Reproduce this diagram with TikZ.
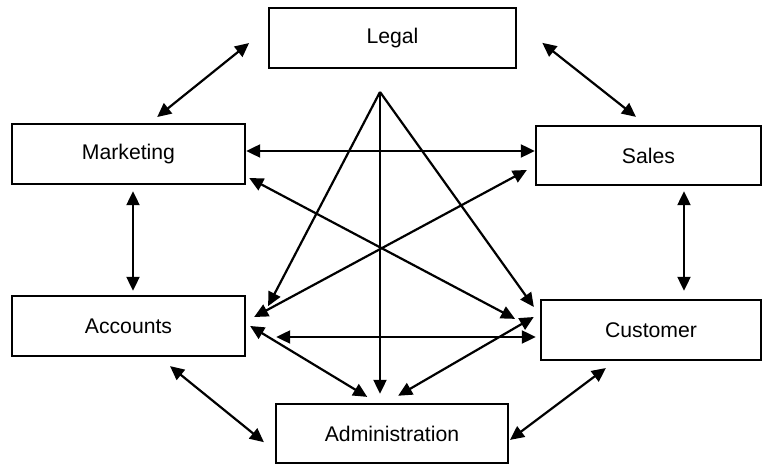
\documentclass[tikz,border=0pt]{standalone}
\usepackage{fontspec}
\setmainfont{Liberation Sans}
\usepackage{tikz}
\usetikzlibrary{arrows.meta, positioning, calc}

\begin{document}
\begin{tikzpicture}[x=0.5pt, y=-0.5pt,
  dept/.style={draw, line width=1.2pt, inner sep=0pt, font=\fontsize{10.6}{12.7}\selectfont},
  link/.style={{Triangle[length=7pt,width=6.5pt]}-{Triangle[length=7pt,width=6.5pt]}, line width=1.1pt},
  tolink/.style={-{Triangle[length=7pt,width=6.5pt]}, line width=1.1pt}]
  \useasboundingbox (0,0) rectangle (762,464);

  \node[dept, minimum width=123.5pt, minimum height=30pt] (legal) at (392.5,38) {Legal};
  \node[dept, minimum width=116.5pt, minimum height=30pt] (mkt) at (128.5,154) {Marketing};
  \node[dept, minimum width=112.5pt, minimum height=29.5pt] (sales) at (648.5,155.5) {Sales};
  \node[dept, minimum width=116.5pt, minimum height=30pt] (acc) at (128.5,326) {Accounts};
  \node[dept, minimum width=110pt, minimum height=30pt] (cust) at (651,330) {Customer};
  \node[dept, minimum width=116pt, minimum height=29.5pt] (admin) at (392,433.5) {Administration};
  \coordinate (apex) at (380,92);

  \draw[link, shorten <=4.6pt, shorten >=12pt] ([shift={(21.5,0)}]mkt.north) -- ([shift={(0,-10)}]legal.west);
  \draw[link, shorten <=16pt, shorten >=6.4pt] ([shift={(0,-15)}]legal.east) -- ([shift={(-2.5,0)}]sales.north);
  \draw[link, shorten <=3pt, shorten >=2pt] ([shift={(4.5,0)}]mkt.south) -- ([shift={(4.5,0)}]acc.north);
  \draw[link, shorten <=2.5pt, shorten >=4pt] ([shift={(35.5,0)}]sales.south) -- ([shift={(35.5,0)}]sales.south |- cust.north);
  \draw[link, shorten <=7.1pt, shorten >=7pt] ([shift={(30.5,0)}]acc.south) -- ([shift={(0,17.5)}]admin.west);
  \draw[link, shorten <=5.7pt, shorten >=0.5pt] ([shift={(-36,0)}]cust.south) -- ([shift={(0,7)}]admin.east);

  \draw[link] ([shift={(0,-3)}]mkt.east) -- ([shift={(0,-3)}]mkt.east -| sales.west);
  \draw[link, shorten <=15pt, shorten >=2pt] ([shift={(0,11)}]acc.east) -- ([shift={(0,11)}]acc.east -| cust.west);

  \draw[tolink, shorten >=23.6pt] (apex) -- ([shift={(0,22)}]acc.east);
  \draw[tolink, shorten >=4.5pt] (apex) -- (apex |- admin.north);
  \draw[tolink, shorten >=5.1pt] (apex) -- ([shift={(0,-14.7)}]cust.west);

  \draw[link, shorten <=1.7pt, shorten >=14pt] ([shift={(0,22.4)}]mkt.east) -- ([shift={(0,2)}]cust.west);
  \draw[link, shorten <=4.5pt, shorten >=4.5pt] ([shift={(0,10.2)}]sales.west) -- ([shift={(0,-4.7)}]acc.east);
  \draw[link, shorten <=2.3pt, shorten >=5.7pt] ([shift={(0,-2.4)}]acc.east) -- ([shift={(-15,0)}]admin.north);
  \draw[link, shorten <=3.5pt, shorten >=7pt] ([shift={(0,-16.5)}]cust.west) -- ([shift={(-6,0)}]admin.north);
\end{tikzpicture}
\end{document}
